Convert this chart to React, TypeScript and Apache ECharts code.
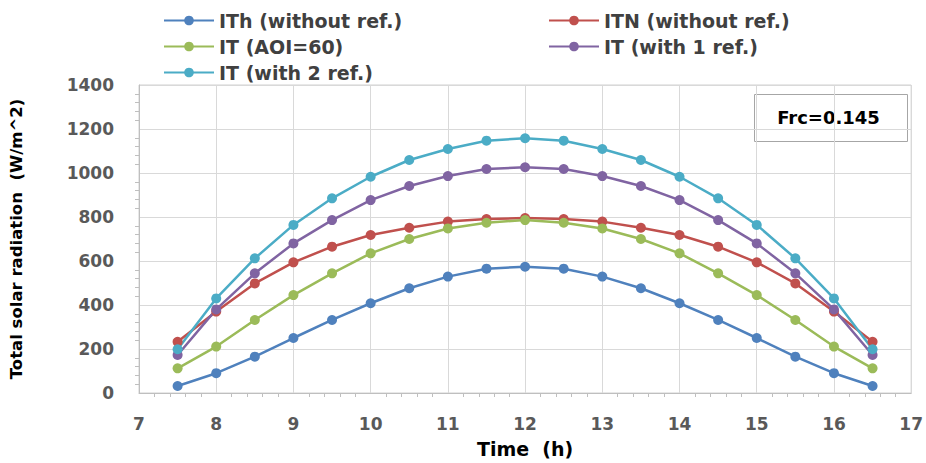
import React, { useEffect, useRef } from "react";
import * as echarts from "echarts";

const hours = [7.5, 8, 8.5, 9, 9.5, 10, 10.5, 11, 11.5, 12, 12.5, 13, 13.5, 14, 14.5, 15, 15.5, 16, 16.5];
const ITh = [32, 90, 165, 250, 332, 408, 476, 529, 565, 574, 565, 529, 476, 408, 332, 250, 165, 90, 32];
const ITN = [233, 370, 498, 594, 665, 718, 751, 779, 791, 795, 791, 779, 751, 718, 665, 594, 498, 370, 233];
const AOI60 = [112, 211, 332, 445, 544, 635, 700, 748, 774, 786, 774, 748, 700, 635, 544, 445, 332, 211, 112];
const ref1 = [173, 380, 544, 680, 786, 877, 941, 986, 1018, 1026, 1018, 986, 941, 877, 786, 680, 544, 380, 173];
const ref2 = [199, 430, 612, 764, 885, 983, 1059, 1109, 1147, 1158, 1147, 1109, 1059, 983, 885, 764, 612, 430, 199];

const seriesNames = ["ITh (without ref.)", "ITN (without ref.)", "IT (AOI=60)", "IT (with 1 ref.)", "IT (with 2 ref.)"];
const seriesValues = [ITh, ITN, AOI60, ref1, ref2];
const colors = ["#4F81BD", "#C0504D", "#9BBB59", "#8064A2", "#4BACC6"];
const annotation = "Frc=0.145";

const FONT = "DejaVu Sans";

export default function App() {
  const ref = useRef<HTMLDivElement>(null);
  useEffect(() => {
    if (!ref.current) return;
    const chart = echarts.init(ref.current, null, { renderer: "svg" });
    const legendText = { fontSize: 19, lineHeight: 19, fontWeight: "bold" as const, color: "#404040", fontFamily: FONT };
    const legendBase = {
      orient: "vertical",
      top: 6,
      itemWidth: 50,
      itemHeight: 12,
      itemGap: 7,
      textStyle: legendText,
    };
    chart.setOption({
      animation: false,
      backgroundColor: "#ffffff",
      color: colors,
      grid: {
        left: 137,
        right: 14,
        top: 85,
        bottom: 70,
        show: true,
        borderColor: "#d0d0d0",
        borderWidth: 1,
        backgroundColor: "transparent",
      },
      legend: [
        { ...legendBase, left: 158, data: [seriesNames[0], seriesNames[2], seriesNames[4]] },
        { ...legendBase, left: 543, data: [seriesNames[1], seriesNames[3]] },
      ],
      xAxis: {
        type: "value",
        min: 7,
        max: 17,
        interval: 1,
        name: "Time  (h)",
        nameLocation: "middle",
        nameGap: 46,
        nameTextStyle: { fontSize: 19, fontWeight: "bold", color: "#000", fontFamily: FONT },
        axisLine: { show: true, lineStyle: { color: "#bfbfbf", width: 1 } },
        axisTick: { show: false },
        minorTick: { show: true, splitNumber: 5, length: 4, lineStyle: { color: "#bfbfbf" } },
        axisLabel: { margin: 22, fontSize: 17, fontWeight: "bold", color: "#595959", fontFamily: FONT },
        splitLine: { show: true, lineStyle: { color: "#d9d9d9", width: 1 } },
      },
      yAxis: {
        type: "value",
        min: 0,
        max: 1400,
        interval: 200,
        name: "Total solar radiation  (W/m^2)",
        nameLocation: "middle",
        nameGap: 114,
        nameTextStyle: { fontSize: 16.5, fontWeight: "bold", color: "#000", fontFamily: FONT },
        axisLine: { show: true, lineStyle: { color: "#bfbfbf", width: 1 } },
        axisTick: { show: false },
        minorTick: { show: true, splitNumber: 5, length: 4, lineStyle: { color: "#bfbfbf" } },
        axisLabel: {
          margin: 25,
          fontSize: 17,
          fontWeight: "bold",
          color: "#595959",
          fontFamily: FONT,
          formatter: (v: number) => String(v),
        },
        splitLine: { show: true, lineStyle: { color: "#d9d9d9", width: 1 } },
      },
      series: seriesNames.map((name, k) => ({
        name,
        type: "line",
        data: hours.map((h, i) => [h, seriesValues[k][i]]),
        symbol: "circle",
        symbolSize: 10,
        lineStyle: { width: 2.5, color: colors[k] },
        itemStyle: { color: colors[k] },
        smooth: false,
      })),
      graphic: [
        {
          type: "group",
          left: 754,
          top: 94,
          children: [
            {
              type: "rect",
              shape: { x: 0, y: 0, width: 153, height: 47 },
              style: { fill: "#ffffff", stroke: "#a6a6a6", lineWidth: 1 },
            },
            {
              type: "text",
              x: 74,
              y: 23,
              style: {
                text: annotation,
                fontSize: 18,
                fontWeight: "bold",
                fontFamily: FONT,
                fill: "#000",
                align: "center",
                verticalAlign: "middle",
              },
            },
          ],
        },
      ],
    });
    return () => chart.dispose();
  }, []);
  return <div ref={ref} style={{ position: "fixed", left: 0, top: 0, width: 926, height: 463 }} />;
}
